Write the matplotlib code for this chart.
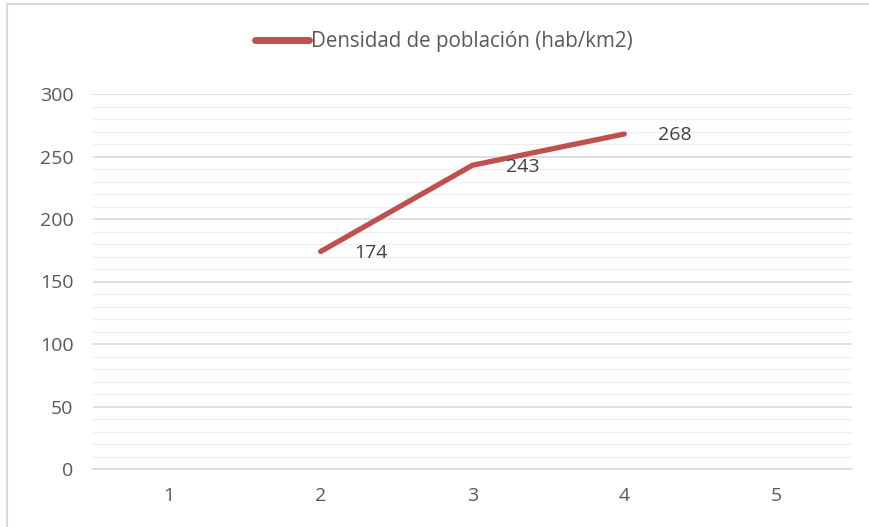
import matplotlib
matplotlib.use('Agg')
import matplotlib.pyplot as plt
from matplotlib.lines import Line2D
from matplotlib.ticker import MultipleLocator

categories = [1, 2, 3, 4, 5]
density_x = [2, 3, 4]
density = [174, 243, 268]
series_name = 'Densidad de población (hab/km2)'

plt.rcParams['font.family'] = ['Open Sans', 'DejaVu Sans']
text_color = '#595959'
line_color = '#C0504D'

fig = plt.figure(figsize=(8.7, 5.27), dpi=100)
ax = fig.add_axes([93 / 870, 1 - 469 / 527, (852 - 93) / 870, (469 - 94) / 527])

ax.plot(density_x, density, color=line_color, linewidth=3.8, solid_capstyle='round',
        solid_joinstyle='round', zorder=3)
for x, y in zip(density_x, density):
    ax.annotate(str(y), (x, y), xytext=(24, -1), textcoords='offset points',
                ha='left', va='center', fontsize=14, color='#404040')

ax.set_xlim(0.5, 5.5)
ax.set_ylim(0, 300)
ax.set_xticks(categories)
ax.yaxis.set_major_locator(MultipleLocator(50))
ax.yaxis.set_minor_locator(MultipleLocator(10))
ax.grid(axis='y', which='major', color='#D9D9D9', linewidth=1.2)
ax.grid(axis='y', which='minor', color='#F0F0F0', linewidth=1.0)
ax.set_axisbelow(True)
for s in ['top', 'right', 'left']:
    ax.spines[s].set_visible(False)
ax.spines['bottom'].set_color('#D9D9D9')
ax.spines['bottom'].set_linewidth(1.2)
ax.tick_params(axis='both', which='both', length=0, labelsize=14, colors=text_color)
ax.tick_params(axis='y', pad=14)
ax.tick_params(axis='x', pad=13)

handle = Line2D([], [], color=line_color, linewidth=5, solid_capstyle='round')
fig.legend([handle], [series_name], loc='center', bbox_to_anchor=(0.51, 1 - 42 / 527),
           frameon=False, fontsize=14.8, labelcolor=text_color, handlelength=2.6,
           handletextpad=0.1)

# chart frame edges
fig.add_artist(Line2D([7 / 870, 7 / 870], [0, 1 - 4 / 527], color='#D9D9D9', linewidth=1.5))
fig.add_artist(Line2D([7 / 870, 1], [1 - 4 / 527, 1 - 4 / 527], color='#D9D9D9', linewidth=1.5))

fig.savefig('out.png', dpi=100, facecolor='white')
